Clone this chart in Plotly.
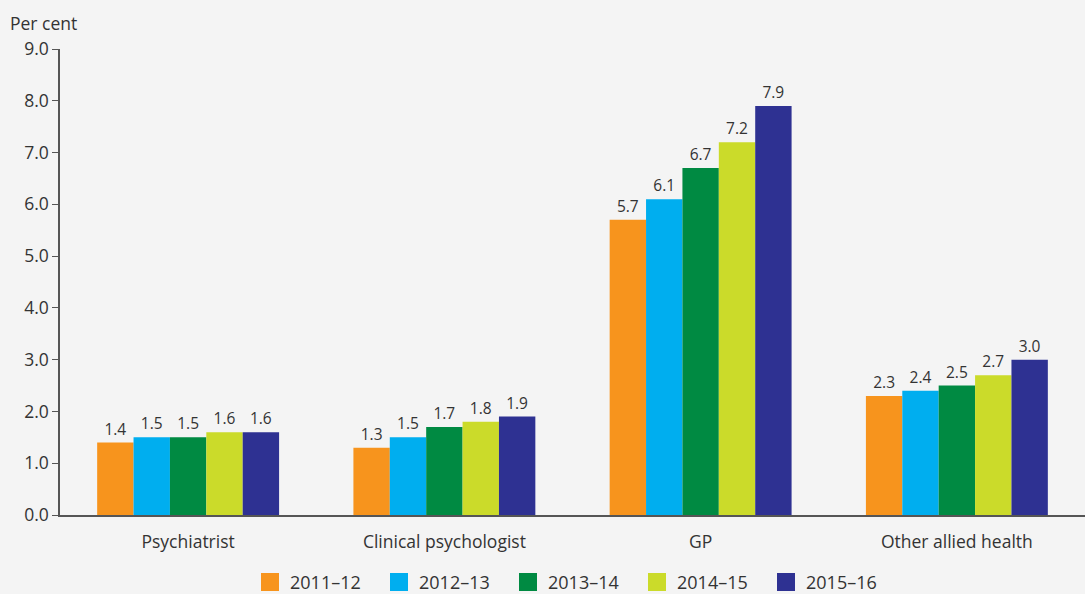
import plotly.graph_objects as go

# data

categorias = ["Psychiatrist", "Clinical psychologist", "GP", "Other allied health"]
periodos = ["2011–12", "2012–13", "2013–14", "2014–15", "2015–16"]

v_2011 = [1.4, 1.3, 5.7, 2.3]
v_2012 = [1.5, 1.5, 6.1, 2.4]
v_2013 = [1.5, 1.7, 6.7, 2.5]
v_2014 = [1.6, 1.8, 7.2, 2.7]
v_2015 = [1.6, 1.9, 7.9, 3.0]

valores = [v_2011, v_2012, v_2013, v_2014, v_2015]

colores = ["#f7941d", "#00aeef", "#008a42", "#cbdb2a", "#2e3192"]

texto = "#333333"
fuente = "Open Sans, DejaVu Sans, sans-serif"

fig = go.Figure()

for per, vals, col in zip(periodos, valores, colores):
    fig.add_trace(go.Bar(
        x=categorias,
        y=vals,
        name=per,
        marker_color=col,
        marker_line_width=0,
        text=[f"{v:.1f}" for v in vals],
        textposition="outside",
        textfont=dict(size=15.5, color=texto, family=fuente),
        cliponaxis=False,
        showlegend=False,
    ))

# leyenda con cuadrados grandes
for per, col in zip(periodos, colores):
    fig.add_trace(go.Scatter(
        x=[None],
        y=[None],
        mode="markers",
        name=per,
        marker=dict(symbol="square", size=16, color=col, line=dict(color=col, width=2)),
        hoverinfo="skip",
    ))

fig.update_layout(
    width=1085,
    height=594,
    barmode="group",
    bargap=0.29,
    bargroupgap=0,
    plot_bgcolor="#f4f4f4",
    paper_bgcolor="#f4f4f4",
    font=dict(family=fuente, size=17, color=texto),
    margin=dict(l=60, r=0, t=49, b=79),
    showlegend=True,
    legend=dict(
        orientation="h",
        x=0.5,
        xanchor="center",
        yref="container",
        y=0.051,
        yanchor="top",
        font=dict(size=18, color=texto),
        entrywidth=84,
        entrywidthmode="pixels",
        traceorder="normal",
        bgcolor="rgba(0,0,0,0)",
    ),
    xaxis=dict(
        showline=True,
        linecolor="#555555",
        linewidth=1.5,
        ticks="",
        ticklabelstandoff=10,
        showgrid=False,
        tickfont=dict(size=17.5, color=texto),
    ),
    yaxis=dict(
        range=[0, 9],
        dtick=1,
        tickformat=".1f",
        showline=True,
        linecolor="#555555",
        linewidth=1.5,
        ticks="outside",
        ticklen=6,
        tickcolor="#555555",
        showgrid=False,
        zeroline=False,
        tickfont=dict(size=17.5, color=texto),
    ),
    annotations=[dict(
        text="Per cent",
        xref="paper",
        yref="paper",
        x=-0.051,
        y=1.025,
        xanchor="left",
        yanchor="bottom",
        showarrow=False,
        font=dict(size=17.5, color=texto),
    )],
)

fig.write_html(
    "out.html",
    config={"displayModeBar": False},
    post_script="document.body.style.margin='0';document.body.style.overflow='hidden';",
)
